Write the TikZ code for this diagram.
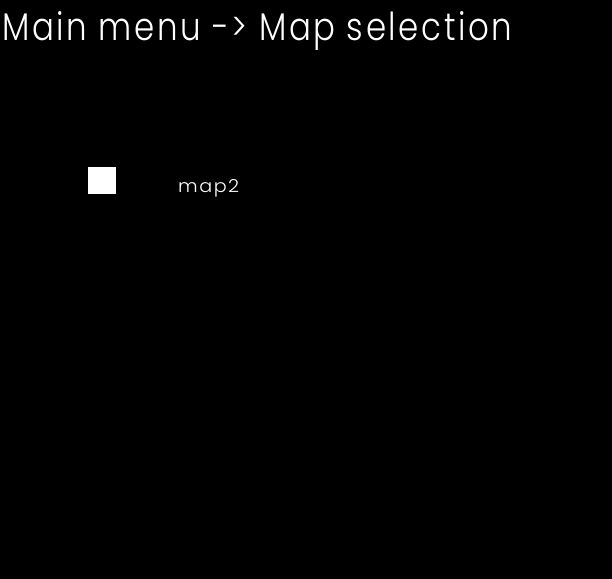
\documentclass[tikz,border=0pt]{standalone}
\usepackage{fontspec}
\setmainfont{Poppins}[UprightFont=* Light]
\newfontfamily\spaced{Poppins}[UprightFont=* Light,LetterSpace=8]
\usepackage{graphicx}
\begin{document}
\begin{tikzpicture}[x=1bp,y=-1bp,
  txt/.style={text=white,inner sep=0pt,anchor=base west},
  swatch/.style={fill=white,draw=none,inner sep=0pt,minimum width=28bp,minimum height=27bp,anchor=north west}]
\fill[black] (0,0) rectangle (612,579);
\useasboundingbox (0,0) rectangle (612,579);
\node[txt] (title) at (2,41) {\resizebox{510bp}{29bp}{\spaced Main menu -> Map selection}};
\node[swatch] (sq) at (88,167) {};
\node[txt] (lbl) at (178,192) {\resizebox{61bp}{13bp}{\spaced map2}};
\end{tikzpicture}
\end{document}
